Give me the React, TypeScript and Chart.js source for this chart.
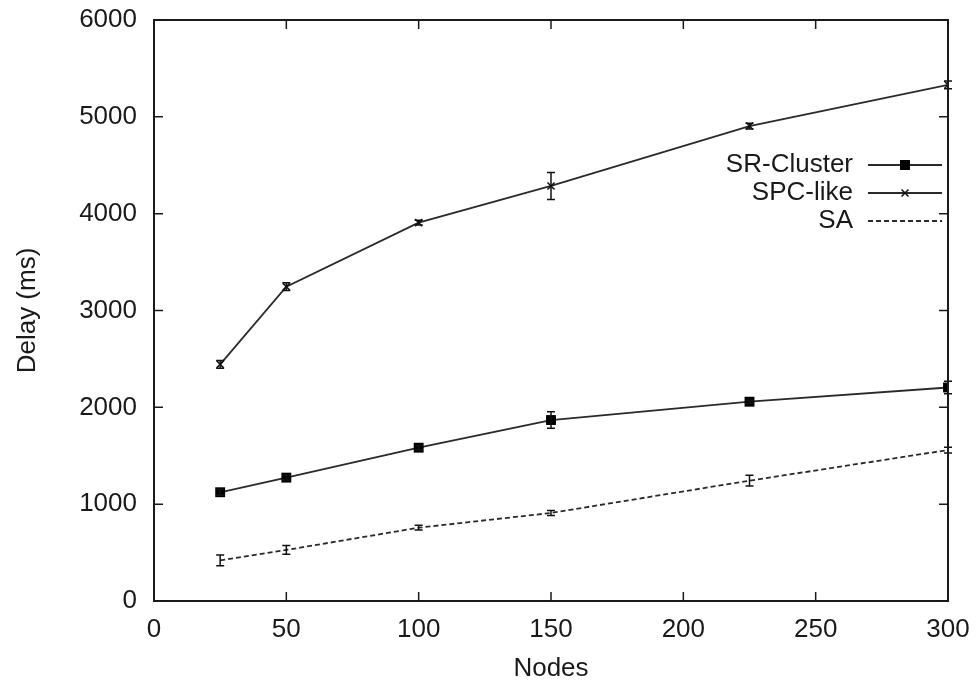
import React, { useEffect, useRef } from "react";
import { Chart, registerables } from "chart.js";

Chart.register(...registerables);

const nodes = [25, 50, 100, 150, 225, 300];
const srCluster = [1123, 1274, 1583, 1869, 2058, 2205];
const srClusterErr = [30, 25, 20, 85, 15, 65];
const spcLike = [2444, 3246, 3907, 4286, 4905, 5330];
const spcLikeErr = [40, 40, 25, 140, 30, 40];
const sa = [420, 527, 757, 909, 1243, 1559];
const saErr = [55, 45, 25, 25, 55, 30];
const seriesNames = ["SR-Cluster", "SPC-like", "SA"];
const xTicks = [0, 50, 100, 150, 200, 250, 300];
const yTicks = [0, 1000, 2000, 3000, 4000, 5000, 6000];

const FONT = "'Liberation Sans', Arial, Helvetica, sans-serif";
const FS = 26;
const INK = "#1a1a1a";
const LINE = "#2a2a2a";

const errorSets = [srClusterErr, spcLikeErr, saErr];

const framePlugin = {
  id: "frameAndExtras",
  afterDatasetsDraw(chart: any) {
    const { ctx, chartArea } = chart;
    const { left, right, top, bottom } = chartArea;
    const xs = chart.scales.x;
    const ys = chart.scales.y;
    ctx.save();
    // error bars
    ctx.strokeStyle = "#111";
    ctx.lineWidth = 1.5;
    chart.data.datasets.forEach((ds: any, i: number) => {
      const errs = errorSets[i];
      ds.data.forEach((p: any, j: number) => {
        const x = xs.getPixelForValue(p.x);
        const y1 = ys.getPixelForValue(p.y + errs[j]);
        const y2 = ys.getPixelForValue(p.y - errs[j]);
        ctx.beginPath();
        ctx.moveTo(x, y1);
        ctx.lineTo(x, y2);
        ctx.moveTo(x - 4, y1);
        ctx.lineTo(x + 4, y1);
        ctx.moveTo(x - 4, y2);
        ctx.lineTo(x + 4, y2);
        ctx.stroke();
      });
    });
    // frame
    ctx.strokeStyle = INK;
    ctx.lineWidth = 2;
    ctx.strokeRect(left, top, right - left, bottom - top);
    // inward ticks
    ctx.lineWidth = 1.5;
    const tl = 9;
    yTicks.forEach((v) => {
      const y = ys.getPixelForValue(v);
      ctx.beginPath();
      ctx.moveTo(left, y);
      ctx.lineTo(left + tl, y);
      ctx.moveTo(right, y);
      ctx.lineTo(right - tl, y);
      ctx.stroke();
    });
    xTicks.forEach((v) => {
      const x = xs.getPixelForValue(v);
      ctx.beginPath();
      ctx.moveTo(x, bottom);
      ctx.lineTo(x, bottom - tl);
      ctx.moveTo(x, top);
      ctx.lineTo(x, top + tl);
      ctx.stroke();
    });
    // legend
    ctx.font = `${FS}px ${FONT}`;
    ctx.textAlign = "right";
    ctx.textBaseline = "middle";
    chart.data.datasets.forEach((ds: any, i: number) => {
      const y = top + 145 + i * 28;
      ctx.fillStyle = INK;
      ctx.fillText(ds.label, right - 95, y);
      ctx.strokeStyle = LINE;
      ctx.lineWidth = 1.8;
      ctx.setLineDash(ds.borderDash || []);
      ctx.beginPath();
      ctx.moveTo(right - 80, y);
      ctx.lineTo(right - 6, y);
      ctx.stroke();
      ctx.setLineDash([]);
      const mx = right - 43;
      if (ds.pointStyle === "rect") {
        ctx.fillStyle = "#000";
        ctx.fillRect(mx - 5, y - 5, 10, 10);
      } else if (ds.pointStyle === "crossRot") {
        ctx.strokeStyle = "#111";
        ctx.lineWidth = 1.5;
        ctx.beginPath();
        ctx.moveTo(mx - 3.5, y - 3.5);
        ctx.lineTo(mx + 3.5, y + 3.5);
        ctx.moveTo(mx - 3.5, y + 3.5);
        ctx.lineTo(mx + 3.5, y - 3.5);
        ctx.stroke();
      }
    });
    ctx.restore();
  },
};

function pts(vals: number[]) {
  return nodes.map((n, i) => ({ x: n, y: vals[i] }));
}

export default function App() {
  const ref = useRef<HTMLCanvasElement | null>(null);
  useEffect(() => {
    document.body.style.margin = "0";
    const canvas = ref.current;
    if (!canvas) return;
    const chart = new Chart(canvas, {
      type: "line",
      data: {
        datasets: [
          {
            label: seriesNames[0],
            data: pts(srCluster),
            borderColor: LINE,
            borderWidth: 1.8,
            pointStyle: "rect",
            pointRadius: 7,
            pointBackgroundColor: "#000",
            pointBorderColor: "#000",
            pointBorderWidth: 0,
            fill: false,
          },
          {
            label: seriesNames[1],
            data: pts(spcLike),
            borderColor: LINE,
            borderWidth: 1.8,
            pointStyle: "crossRot",
            pointRadius: 5,
            pointBorderColor: "#111",
            pointBorderWidth: 1.5,
            fill: false,
          },
          {
            label: seriesNames[2],
            data: pts(sa),
            borderColor: LINE,
            borderWidth: 1.8,
            borderDash: [5, 3],
            pointRadius: 0,
            fill: false,
          },
        ],
      },
      options: {
        animation: false,
        responsive: false,
        events: [],
        layout: { padding: { top: 20, right: 28, left: 0, bottom: 0 } },
        plugins: { legend: { display: false }, tooltip: { enabled: false } },
        scales: {
          x: {
            type: "linear",
            min: 0,
            max: 300,
            afterBuildTicks: (s: any) => {
              s.ticks = xTicks.map((v) => ({ value: v }));
            },
            afterFit: (s: any) => {
              s.height = 83;
              s.paddingLeft = 0;
              s.paddingRight = 0;
            },
            grid: { display: false, drawTicks: false },
            border: { display: false },
            ticks: {
              padding: 13,
              color: INK,
              font: { family: FONT, size: FS },
              maxRotation: 0,
              callback: (v: any) => String(v),
            },
            title: {
              display: true,
              text: "Nodes",
              color: INK,
              font: { family: FONT, size: FS },
              padding: { top: 0, bottom: 0 },
            },
          },
          y: {
            type: "linear",
            min: 0,
            max: 6000,
            afterBuildTicks: (s: any) => {
              s.ticks = yTicks.map((v) => ({ value: v }));
            },
            afterFit: (s: any) => {
              s.width = 154;
              s.paddingTop = 0;
              s.paddingBottom = 0;
            },
            grid: { display: false, drawTicks: false },
            border: { display: false },
            ticks: {
              padding: 17,
              color: INK,
              font: { family: FONT, size: FS },
              callback: (v: any) => String(v),
            },
            title: {
              display: true,
              text: "Delay (ms)",
              color: INK,
              font: { family: FONT, size: FS },
              padding: { top: 12, bottom: 0 },
            },
          },
        },
      },
      plugins: [framePlugin],
    });
    return () => chart.destroy();
  }, []);
  return (
    <div style={{ position: "absolute", left: 0, top: 0, width: 976, height: 684, background: "#fff" }}>
      <canvas ref={ref} width={976} height={684} />
    </div>
  );
}
